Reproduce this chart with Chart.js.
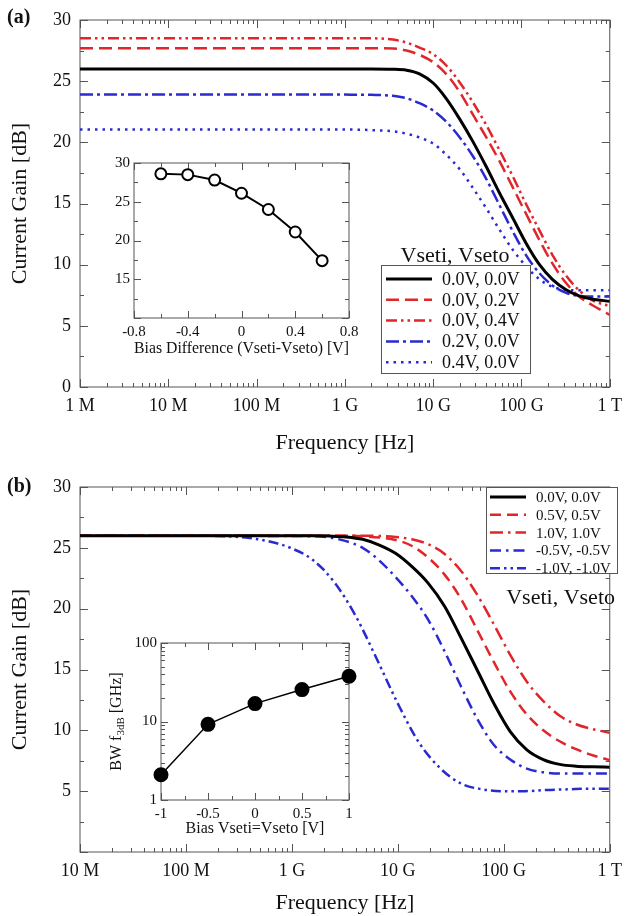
<!DOCTYPE html>
<html><head><meta charset="utf-8">
<script src="https://cdn.jsdelivr.net/npm/chart.js@4.4.1/dist/chart.umd.min.js"></script>
<style>
html,body{margin:0;padding:0;background:#fff;}
#wrap{position:relative;width:630px;height:916px;overflow:hidden;}
.c{position:absolute;}
canvas{display:block;}
</style></head><body>
<div id="wrap">
<div class="c" style="left:0;top:0;"><canvas id="ca" width="630" height="460"></canvas></div>
<div class="c" style="left:0;top:460px;"><canvas id="cb" width="630" height="456"></canvas></div>
<div class="c" style="left:100px;top:150px;"><canvas id="ia" width="270" height="210"></canvas></div>
<div class="c" style="left:100px;top:630px;"><canvas id="ib" width="270" height="210"></canvas></div>
</div>
<script>
// ---------------- DATA ----------------
// Panel (a): frequency [Hz] and current gain [dB]
const freqA = [1e6,1e8,1e9,2e9,3.5e9,5e9,7e9,1e10,1.4e10,2e10,2.8e10,4e10,5.6e10,8e10,1.12e11,1.6e11,2.24e11,3.2e11,4.5e11,6.3e11,1e12];
const gainA_00_00 = [26,26,26,26,25.98,25.9,25.6,24.85,23.6,21.9,20.1,18.0,15.9,13.8,11.8,10.0,8.8,7.95,7.45,7.2,7.0];
const gainA_00_02 = [27.7,27.7,27.7,27.7,27.68,27.5,27.15,26.55,25.6,24.1,22.3,20.4,18.5,16.3,14.2,12.0,10.1,8.5,7.4,6.7,5.9];
const gainA_00_04 = [28.5,28.5,28.5,28.5,28.4,28.15,27.75,27.2,26.3,24.9,23.3,21.4,19.4,17.2,15.0,12.8,10.8,9.1,7.9,7.1,6.6];
const gainA_02_00 = [23.9,23.9,23.9,23.88,23.8,23.6,23.2,22.6,21.7,20.4,18.9,17.0,14.9,12.7,10.8,9.3,8.3,7.7,7.45,7.4,7.4];
const gainA_04_00 = [21.05,21.05,21.05,21.0,20.9,20.7,20.4,19.9,19.0,17.8,16.3,14.6,12.9,11.2,9.9,8.8,8.2,7.95,7.9,7.9,7.9];
const labelsA = ['0.0V, 0.0V','0.0V, 0.2V','0.0V, 0.4V','0.2V, 0.0V','0.4V, 0.0V'];
const freqTickValuesA = [1e6,1e7,1e8,1e9,1e10,1e11,1e12];
const freqTickLabelsA = ['1 M','10 M','100 M','1 G','10 G','100 G','1 T'];

// Panel (b)
const freqB = [1e7,1e8,1e9,1.58e9,2.26e9,3.24e9,4.65e9,6.6e9,9.5e9,1.36e10,1.93e10,2.76e10,3.95e10,5.65e10,8.07e10,1.15e11,1.65e11,2.36e11,3.37e11,4.81e11,6.88e11,1e12];
const gainB_00  = [26,26,26,26,25.97,25.9,25.7,25.25,24.55,23.45,22.1,20.2,17.6,14.9,12.2,9.9,8.4,7.6,7.2,7.05,7.0,6.97];
const gainB_05  = [26,26,26,26,26,26,25.95,25.85,25.65,25.15,24.2,22.8,20.8,18.2,15.6,13.2,11.3,10.0,9.1,8.45,7.95,7.55];
const gainB_10  = [26,26,26,26,26,26,26,25.98,25.9,25.7,25.3,24.5,23.1,21.1,18.7,16.2,14.0,12.4,11.2,10.5,10.1,9.8];
const gainB_m05 = [26,26,25.97,25.95,25.85,25.55,25.0,24.0,22.6,21.0,19.1,16.5,13.6,10.9,8.8,7.6,6.85,6.55,6.45,6.45,6.45,6.45];
const freqB_m10 = [1e7,1e8,2e8,4e8,6.3e8,1e9,1.58e9,2.5e9,4e9,6.3e9,1e10,1.58e10,2.5e10,4e10,6.3e10,1e11,1.58e11,2.5e11,4e11,6.3e11,1e12];
const gainB_m10 = [26,26,25.97,25.8,25.5,24.95,24.0,22.2,19.4,15.9,12.2,9.0,6.9,5.6,5.15,5.0,5.0,5.1,5.15,5.2,5.2];
const labelsB = ['0.0V, 0.0V','0.5V, 0.5V','1.0V, 1.0V','-0.5V, -0.5V','-1.0V, -1.0V'];
const freqTickValuesB = [1e7,1e8,1e9,1e10,1e11,1e12];
const freqTickLabelsB = ['10 M','100 M','1 G','10 G','100 G','1 T'];

const gainTickValues = [0,5,10,15,20,25,30];
const gainMinorTicks = [2.5,7.5,12.5,17.5,22.5,27.5];

// Inset (a)
const biasDiff = [-0.6,-0.4,-0.2,0,0.2,0.4,0.6];
const dcGain = [28.6,28.5,27.8,26.1,24.0,21.1,17.4];
const insetAXTicks = [-0.8,-0.4,0,0.4,0.8];
const insetAXLabels = ['-0.8','-0.4','0','0.4','0.8'];
const insetAXMinor = [-0.6,-0.2,0.2,0.6];
const insetAYTicks = [10,15,20,25,30];
const insetAYLabels = ['','15','20','25','30'];
const insetAYMinor = [12.5,17.5,22.5,27.5];

// Inset (b)
const biasEq = [-1,-0.5,0,0.5,1];
const bw3dB = [2.1,9.2,16.9,25.5,37.7];
const insetBXTicks = [-1,-0.5,0,0.5,1];
const insetBXLabels = ['-1','-0.5','0','0.5','1'];
const insetBXMinor = [-0.75,-0.25,0.25,0.75];
const insetBYTicks = [1,10,100];
const insetBYLabels = ['1','10','100'];

// ---------------- STYLE ----------------
const RED = '#e0262b', BLUE = '#2a2ad0', INK = '#111', FRAME = '#555';
const FONT = '"Liberation Serif", "Times New Roman", Times, serif';

function logMinor(min, max) {
  const out = [];
  for (let e = Math.round(Math.log10(min)); Math.pow(10, e) < max; e++) {
    for (let m = 2; m <= 9; m++) out.push(m * Math.pow(10, e));
  }
  return out;
}

const framePlugin = {
  id: 'frame',
  beforeDatasetsDraw(chart, args, o) {
    const {ctx, chartArea: a, scales} = chart;
    const xs = scales.x, ys = scales.y;
    ctx.save();
    ctx.strokeStyle = o.color; ctx.lineWidth = o.lw;
    ctx.beginPath();
    const xt = (vals, len) => vals.forEach(v => {
      const p = Math.round(xs.getPixelForValue(v)) + 0.5;
      ctx.moveTo(p, a.bottom); ctx.lineTo(p, a.bottom - len);
      ctx.moveTo(p, a.top); ctx.lineTo(p, a.top + len);
    });
    const yt = (vals, len) => vals.forEach(v => {
      const p = Math.round(ys.getPixelForValue(v)) + 0.5;
      ctx.moveTo(a.left, p); ctx.lineTo(a.left + len, p);
      ctx.moveTo(a.right, p); ctx.lineTo(a.right - len, p);
    });
    xt(o.xMajor, o.majLen); xt(o.xMinor, o.minLen);
    yt(o.yMajor, o.majLen); yt(o.yMinor, o.minLen);
    ctx.stroke();
    ctx.strokeRect(a.left, a.top, a.right - a.left, a.bottom - a.top);
    ctx.restore();
  }
};

const boxLegendPlugin = {
  id: 'boxLegend',
  afterDatasetsDraw(chart, args, o) {
    const ctx = chart.ctx;
    ctx.save();
    ctx.fillStyle = '#fff';
    ctx.fillRect(o.x, o.y, o.w, o.h);
    ctx.strokeStyle = FRAME; ctx.lineWidth = 1;
    ctx.strokeRect(o.x + 0.5, o.y + 0.5, o.w, o.h);
    chart.data.datasets.forEach((ds, i) => {
      const cy = o.y + o.rowTop + i * o.rowH;
      ctx.setLineDash(ds.borderDash || []);
      ctx.strokeStyle = ds.borderColor; ctx.lineWidth = ds.borderWidth;
      ctx.lineCap = ds.borderCapStyle || 'butt';
      ctx.beginPath(); ctx.moveTo(o.x + o.lx0, cy); ctx.lineTo(o.x + o.lx1, cy); ctx.stroke();
      ctx.setLineDash([]);
      ctx.fillStyle = INK; ctx.font = o.font; ctx.textBaseline = 'middle'; ctx.textAlign = 'left';
      ctx.fillText(ds.label, o.x + o.tx, cy + 1);
    });
    ctx.font = o.titleFont; ctx.textAlign = o.titleAlign; ctx.textBaseline = 'alphabetic';
    ctx.fillStyle = INK;
    ctx.fillText(o.title, o.titleX, o.titleY);
    ctx.restore();
  }
};

const panelTextPlugin = {
  id: 'panelText',
  afterDraw(chart, args, o) {
    const ctx = chart.ctx;
    ctx.save();
    (o.items || []).forEach(it => {
      ctx.font = it.font; ctx.fillStyle = INK; ctx.textAlign = 'left'; ctx.textBaseline = 'middle';
      ctx.fillText(it.text, it.x, it.y);
    });
    ctx.restore();
  }
};

const subTitlePlugin = {
  id: 'subTitle',
  afterDraw(chart, args, o) {
    const ctx = chart.ctx, a = chart.chartArea;
    ctx.save();
    ctx.translate(o.x, (a.top + a.bottom) / 2);
    ctx.rotate(-Math.PI / 2);
    ctx.fillStyle = INK; ctx.textBaseline = 'middle'; ctx.textAlign = 'left';
    let total = 0;
    o.parts.forEach(p => { ctx.font = p.font; p.w = ctx.measureText(p.text).width; total += p.w; });
    let x = -total / 2;
    o.parts.forEach(p => { ctx.font = p.font; ctx.fillText(p.text, x, p.dy); x += p.w; });
    ctx.restore();
  }
};

function mainChart(id, series, cfg) {
  return new Chart(document.getElementById(id), {
    type: 'line',
    data: {
      datasets: series.map(s => ({
        label: s.label,
        data: s.freq.map((f, i) => ({x: f, y: s.values[i]})),
        borderColor: s.color, borderDash: s.dash, borderWidth: s.width,
        borderCapStyle: s.cap || 'butt',
        pointRadius: 0, fill: false, cubicInterpolationMode: 'monotone'
      }))
    },
    plugins: [framePlugin, boxLegendPlugin, panelTextPlugin],
    options: {
      responsive: false, animation: false, devicePixelRatio: 1,
      layout: {padding: {left: 0, right: 12.5, top: cfg.padTop, bottom: 0}},
      plugins: {
        legend: {display: false}, tooltip: {enabled: false},
        frame: {color: FRAME, lw: 1, majLen: 8, minLen: 4,
          xMajor: cfg.xTickValues, xMinor: logMinor(cfg.xmin, cfg.xmax),
          yMajor: gainTickValues, yMinor: gainMinorTicks},
        boxLegend: cfg.legend,
        panelText: {items: [{text: cfg.panel, x: 7, y: cfg.panelY, font: 'bold 20px ' + FONT}]}
      },
      scales: {
        x: {
          type: 'logarithmic', min: cfg.xmin, max: cfg.xmax,
          grid: {display: false, drawTicks: false}, border: {display: false},
          afterBuildTicks: s => { s.ticks = cfg.xTickValues.map(v => ({value: v})); },
          ticks: {autoSkip: false, maxRotation: 0, minRotation: 0, padding: 8, color: INK,
            font: {family: FONT, size: 18},
            callback: v => { const i = cfg.xTickValues.indexOf(v); return i >= 0 ? cfg.xTickLabels[i] : ''; }},
          title: {display: true, text: 'Frequency [Hz]', color: INK, font: {family: FONT, size: 22},
            padding: {top: 0, bottom: cfg.xTitlePad}},
          afterFit: s => { s.height = cfg.xHeight; }
        },
        y: {
          type: 'linear', min: 0, max: 30,
          grid: {display: false, drawTicks: false}, border: {display: false},
          afterBuildTicks: s => { s.ticks = gainTickValues.map(v => ({value: v})); },
          ticks: {padding: 9, color: INK, font: {family: FONT, size: 18},
            callback: v => (cfg.hideZero && v === 0) ? '' : String(v)},
          title: {display: true, text: 'Current Gain [dB]', color: INK, font: {family: FONT, size: 22},
            padding: {top: 7, bottom: 0}},
          afterFit: s => { s.width = 80; }
        }
      }
    }
  });
}

mainChart('ca', [
  {label: labelsA[0], freq: freqA, values: gainA_00_00, color: '#000', dash: [], width: 3},
  {label: labelsA[1], freq: freqA, values: gainA_00_02, color: RED, dash: [13, 6], width: 2.5},
  {label: labelsA[2], freq: freqA, values: gainA_00_04, color: RED, dash: [11, 4, 2.5, 4, 2.5, 4], width: 2.5},
  {label: labelsA[3], freq: freqA, values: gainA_02_00, color: BLUE, dash: [13, 4, 3, 4], width: 2.5},
  {label: labelsA[4], freq: freqA, values: gainA_04_00, color: BLUE, dash: [2.5, 5], width: 2.5}
], {
  xmin: 1e6, xmax: 1e12, xTickValues: freqTickValuesA, xTickLabels: freqTickLabelsA,
  padTop: 20, xHeight: 73, xTitlePad: 4, hideZero: false, panel: '(a)', panelY: 18,
  legend: {x: 381, y: 265, w: 149, h: 108, rowTop: 14, rowH: 20.8, lx0: 5, lx1: 51, tx: 61,
    font: '18px ' + FONT, title: 'Vseti, Vseto', titleFont: '22px ' + FONT,
    titleAlign: 'center', titleX: 455, titleY: 262}
});

mainChart('cb', [
  {label: labelsB[0], freq: freqB, values: gainB_00, color: '#000', dash: [], width: 3},
  {label: labelsB[1], freq: freqB, values: gainB_05, color: RED, dash: [11, 6], width: 2.5},
  {label: labelsB[2], freq: freqB, values: gainB_10, color: RED, dash: [13, 5, 2.5, 5], width: 2.5},
  {label: labelsB[3], freq: freqB, values: gainB_m05, color: BLUE, dash: [11, 5, 2.5, 5], width: 2.5},
  {label: labelsB[4], freq: freqB_m10, values: gainB_m10, color: BLUE, dash: [10, 4, 2.5, 4, 2.5, 4], width: 2.5}
], {
  xmin: 1e7, xmax: 1e12, xTickValues: freqTickValuesB, xTickLabels: freqTickLabelsB,
  padTop: 27, xHeight: 64, xTitlePad: 0, hideZero: true, panel: '(b)', panelY: 27,
  legend: {x: 486, y: 27, w: 131, h: 86, rowTop: 10, rowH: 17.8, lx0: 4, lx1: 40, tx: 50,
    font: '15px ' + FONT, title: 'Vseti, Vseto', titleFont: '22px ' + FONT,
    titleAlign: 'right', titleX: 615, titleY: 144}
});

function insetChart(id, xs, ys, cfg) {
  return new Chart(document.getElementById(id), {
    type: 'line',
    data: {datasets: [{
      data: xs.map((x, i) => ({x, y: ys[i]})),
      borderColor: '#000', borderWidth: cfg.lineW, tension: 0, clip: false,
      pointRadius: cfg.pr, pointBorderWidth: 2, pointBorderColor: '#000',
      pointBackgroundColor: cfg.filled ? '#000' : '#fff', pointStyle: 'circle'
    }]},
    plugins: [framePlugin].concat(cfg.extra || []),
    options: {
      responsive: false, animation: false, devicePixelRatio: 1,
      layout: {padding: {left: 0, right: 21, top: cfg.padTop, bottom: 0}},
      plugins: {
        legend: {display: false}, tooltip: {enabled: false},
        frame: {color: FRAME, lw: 1, majLen: 7, minLen: 4,
          xMajor: cfg.xTicks, xMinor: cfg.xMinor, yMajor: cfg.yTicks, yMinor: cfg.yMinor},
        subTitle: cfg.subTitle || {}
      },
      scales: {
        x: {
          type: 'linear', min: cfg.xTicks[0], max: cfg.xTicks[cfg.xTicks.length - 1],
          grid: {display: false, drawTicks: false}, border: {display: false},
          afterBuildTicks: s => { s.ticks = cfg.xTicks.map(v => ({value: v})); },
          ticks: {autoSkip: false, maxRotation: 0, padding: 5, color: INK, font: {family: FONT, size: 15},
            callback: v => { const i = cfg.xTicks.indexOf(v); return i >= 0 ? cfg.xLabels[i] : ''; }},
          title: {display: true, text: cfg.xTitle, color: INK, font: {family: FONT, size: 16},
            padding: {top: 0, bottom: 2}},
          afterFit: s => { s.height = cfg.xHeight; }
        },
        y: {
          type: cfg.yType, min: cfg.yTicks[0], max: cfg.yTicks[cfg.yTicks.length - 1],
          grid: {display: false, drawTicks: false}, border: {display: false},
          afterBuildTicks: s => { s.ticks = cfg.yTicks.map(v => ({value: v})); },
          ticks: {autoSkip: false, padding: 4, color: INK, font: {family: FONT, size: 15},
            callback: v => { const i = cfg.yTicks.indexOf(v); return i >= 0 ? cfg.yLabels[i] : ''; }},
          afterFit: s => { s.width = cfg.yWidth; }
        }
      }
    }
  });
}

insetChart('ia', biasDiff, dcGain, {
  lineW: 2, pr: 5.5, filled: false, padTop: 10, xHeight: 42, yWidth: 34, yType: 'linear',
  xTicks: insetAXTicks, xLabels: insetAXLabels, xMinor: insetAXMinor,
  yTicks: insetAYTicks, yLabels: insetAYLabels, yMinor: insetAYMinor,
  xTitle: 'Bias Difference (Vseti-Vseto) [V]'
});

insetChart('ib', biasEq, bw3dB, {
  lineW: 1.5, pr: 6.5, filled: true, padTop: 13, xHeight: 40, yWidth: 61, yType: 'logarithmic',
  xTicks: insetBXTicks, xLabels: insetBXLabels, xMinor: insetBXMinor,
  yTicks: insetBYTicks, yLabels: insetBYLabels, yMinor: logMinor(1, 100),
  xTitle: 'Bias Vseti=Vseto [V]',
  extra: [subTitlePlugin],
  subTitle: {x: 17, parts: [
    {text: 'BW f', font: '16px ' + FONT, dy: 0},
    {text: '3dB', font: '11px ' + FONT, dy: 4},
    {text: ' [GHz]', font: '16px ' + FONT, dy: 0}
  ]}
});
</script>
</body></html>
